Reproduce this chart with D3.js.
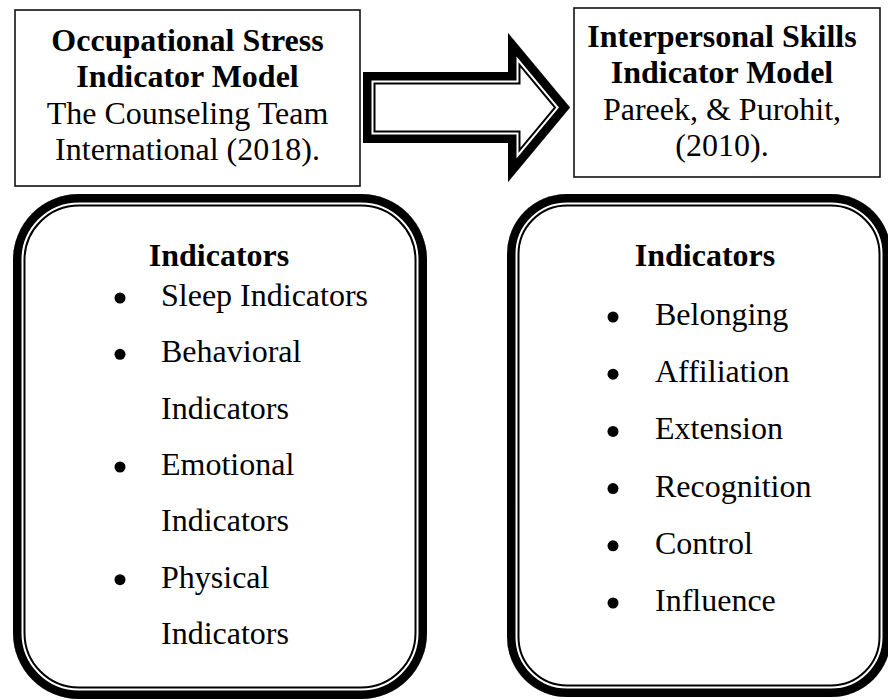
<!DOCTYPE html>
<html>
<head>
<meta charset="utf-8">
<script src="https://cdn.jsdelivr.net/npm/d3@7"></script>
<style>
  body { margin: 0; background: #fff; }
  svg { display: block; }
  text { font-family: "Liberation Serif", "Times New Roman", serif; fill: #000; }
</style>
</head>
<body>
<div id="chart"></div>
<script>
const FRAME_WIDTH = 888;
const FRAME_HEIGHT = 700;

// text content
const LEFT_TITLE = ["Occupational Stress", "Indicator Model"];
const LEFT_SOURCE = ["The Counseling Team", "International (2018)."];
const RIGHT_TITLE = ["Interpersonal Skills", "Indicator Model"];
const RIGHT_SOURCE = ["Pareek, & Purohit,", "(2010)."];
const LIST_HEADING = "Indicators";
const LEFT_INDICATORS = [["Sleep Indicators"], ["Behavioral", "Indicators"],
                         ["Emotional", "Indicators"], ["Physical", "Indicators"]];
const RIGHT_INDICATORS = ["Belonging", "Affiliation", "Extension", "Recognition", "Control", "Influence"];

const FONT = 32;

const FRAME = d3.select("#chart")
                .append("svg")
                  .attr("width", FRAME_WIDTH)
                  .attr("height", FRAME_HEIGHT);

const DEFS = FRAME.append("defs");

// thick-thin outline drawn inside a shape (clipped strokes)
function doubleOutline(id, drawShape) {
  DEFS.append("clipPath").attr("id", id).call((c) => drawShape(c));
  const g = FRAME.append("g").attr("clip-path", "url(#" + id + ")");
  const layers = [
    {w: 25, c: "#000"},
    {w: 21, c: "#fff"},
    {w: 17, c: "#000"}
  ];
  drawShape(g).attr("fill", "#fff").attr("stroke", "none");
  layers.forEach((l) => {
    drawShape(g).attr("fill", "none")
      .attr("stroke", l.c)
      .attr("stroke-width", l.w)
      .attr("stroke-linejoin", "miter");
  });
}

// top boxes
function titleBox(x, y, w, h, cx, y0, title, source) {
  FRAME.append("rect")
    .attr("x", x).attr("y", y)
    .attr("width", w).attr("height", h)
    .attr("fill", "#fff")
    .attr("stroke", "#111")
    .attr("stroke-width", 1.6);

  const Y = d3.scaleLinear().domain([0, 3]).range([y0, y0 + 3 * 36.4]);
  const lines = title.map((t) => ({t: t, bold: true}))
                 .concat(source.map((t) => ({t: t, bold: false})));
  FRAME.selectAll(null)
    .data(lines)
    .enter()
    .append("text")
      .attr("x", cx)
      .attr("y", (d, i) => Y(i))
      .attr("text-anchor", "middle")
      .attr("font-size", FONT + "px")
      .attr("font-weight", (d) => d.bold ? "bold" : "normal")
      .text((d) => d.t);
}

titleBox(15, 10, 345, 176, 187.5, 51, LEFT_TITLE, LEFT_SOURCE);
titleBox(574, 8, 306, 169, 722, 47, RIGHT_TITLE, RIGHT_SOURCE);

// arrow
const ARROW = [[363, 72], [508, 72], [508, 33], [570, 107.5], [508, 182], [508, 143], [363, 143]];
doubleOutline("arrowClip", (sel) => sel.append("path")
  .attr("d", d3.line()(ARROW) + "Z"));

// rounded boxes
doubleOutline("leftClip", (sel) => sel.append("rect")
  .attr("x", 13).attr("y", 194).attr("width", 414).attr("height", 505)
  .attr("rx", 66).attr("ry", 66));
doubleOutline("rightClip", (sel) => sel.append("rect")
  .attr("x", 507).attr("y", 194).attr("width", 384).attr("height", 503)
  .attr("rx", 60).attr("ry", 60));

// headings
[{x: 219, y: 266}, {x: 705, y: 266}].forEach((p) => {
  FRAME.append("text")
    .attr("x", p.x).attr("y", p.y)
    .attr("text-anchor", "middle")
    .attr("font-size", FONT + "px")
    .attr("font-weight", "bold")
    .text(LIST_HEADING);
});

// left list (wrapped items)
const LEFT_LINES = [];
LEFT_INDICATORS.forEach((item) => {
  item.forEach((t, j) => LEFT_LINES.push({t: t, bullet: j === 0}));
});
const Y_LEFT = d3.scaleLinear().domain([0, LEFT_LINES.length - 1]).range([306, 644]);

FRAME.selectAll(null)
  .data(LEFT_LINES)
  .enter()
  .append("text")
    .attr("x", 161)
    .attr("y", (d, i) => Y_LEFT(i))
    .attr("font-size", FONT + "px")
    .text((d) => d.t);

FRAME.selectAll(null)
  .data(LEFT_LINES.map((d, i) => ({...d, i: i})).filter((d) => d.bullet))
  .enter()
  .append("circle")
    .attr("cx", 120)
    .attr("cy", (d) => Y_LEFT(d.i) - 8)
    .attr("r", 5.5)
    .attr("fill", "#000");

// right list
const Y_RIGHT = d3.scaleLinear().domain([0, RIGHT_INDICATORS.length - 1]).range([325, 611]);

FRAME.selectAll(null)
  .data(RIGHT_INDICATORS)
  .enter()
  .append("text")
    .attr("x", 655)
    .attr("y", (d, i) => Y_RIGHT(i))
    .attr("font-size", FONT + "px")
    .text((d) => d);

FRAME.selectAll(null)
  .data(RIGHT_INDICATORS)
  .enter()
  .append("circle")
    .attr("cx", 613)
    .attr("cy", (d, i) => Y_RIGHT(i) - 8)
    .attr("r", 5.5)
    .attr("fill", "#000");
</script>
</body>
</html>
